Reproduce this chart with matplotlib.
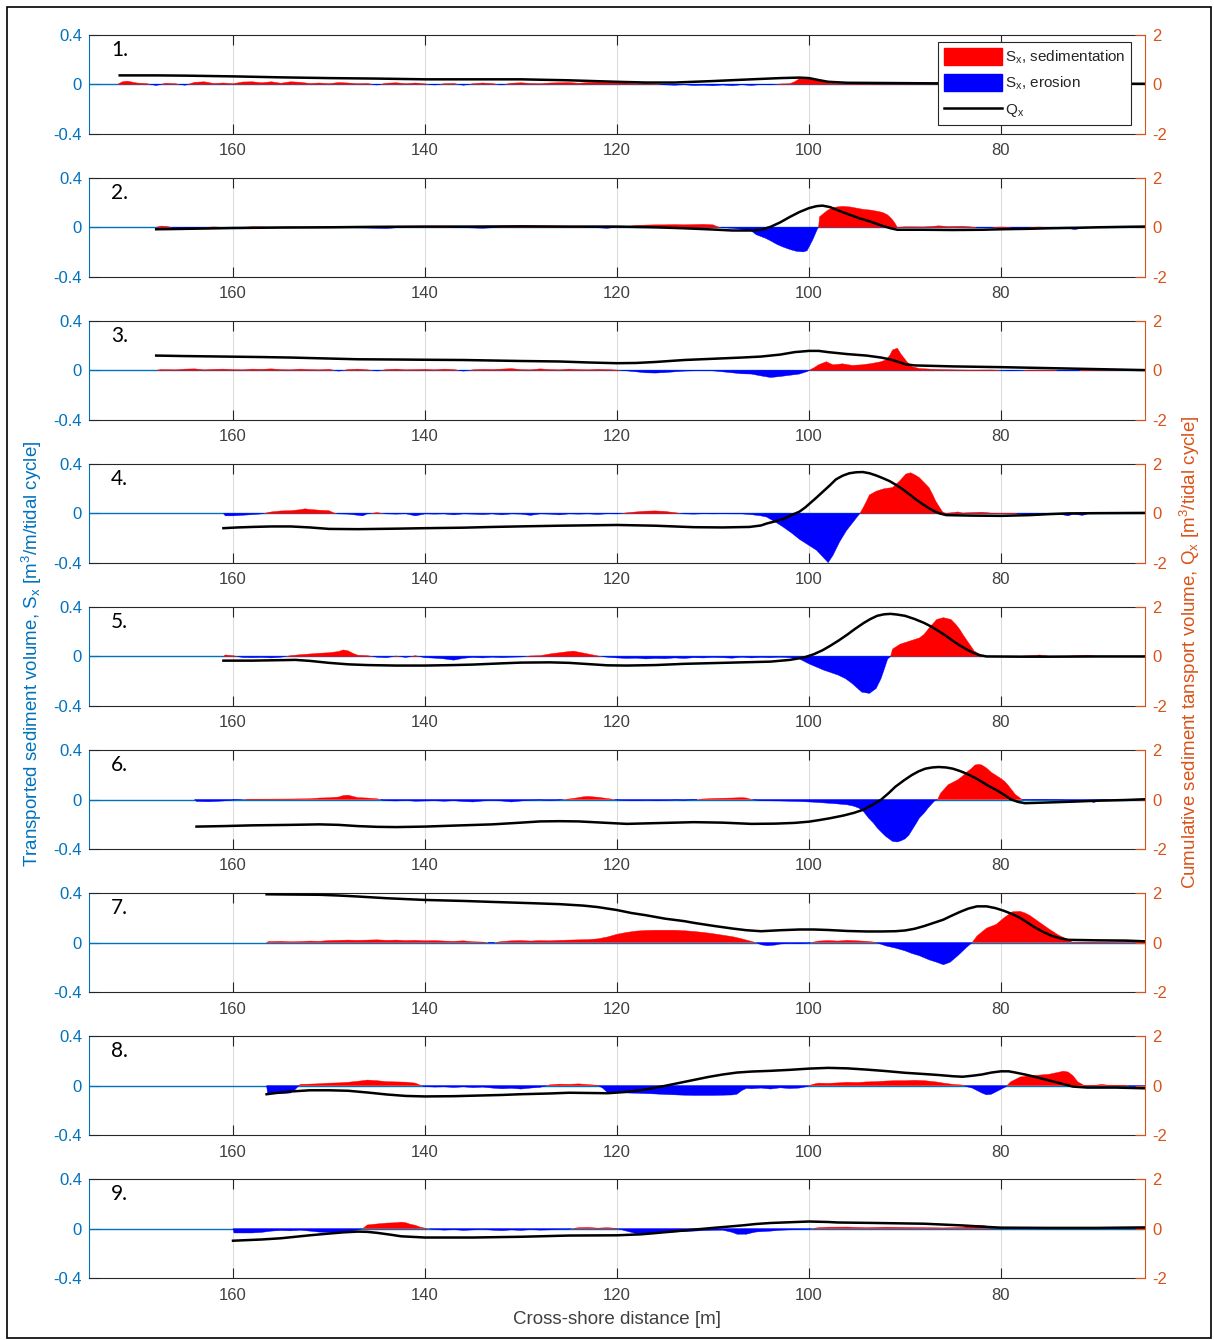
import matplotlib
matplotlib.use("Agg")
import matplotlib.pyplot as plt
from matplotlib.patches import Patch, Rectangle
from matplotlib.lines import Line2D
import numpy as np

plt.rcParams['font.family'] = ['Liberation Sans', 'DejaVu Sans']
plt.rcParams['mathtext.fontset'] = 'custom'
plt.rcParams['mathtext.rm'] = 'Liberation Sans'
plt.rcParams['mathtext.it'] = 'Liberation Sans:italic'

# ---------------------------------------------------------------------------
# Cross-shore transported sediment volume S_x [m3/m/tidal cycle] and
# cumulative transport Q_x [m3/tidal cycle] for nine survey intervals.
# ---------------------------------------------------------------------------
S1_X = [172, 171.5, 171, 170, 169, 168, 167, 166, 165, 164, 163, 162, 161, 160, 159, 158, 157, 156, 155, 154,
        153, 152, 151, 150, 149, 148, 147, 146, 145, 144, 143, 142, 141, 140, 139, 138, 137, 136, 135, 134,
        133, 132, 131, 130, 129, 128, 127, 126, 125, 124, 123, 122, 121, 120, 119, 118, 117, 116, 115, 114,
        113, 112, 111, 110, 109, 108, 107, 106, 105, 104, 103, 102, 101.5, 101, 100, 99, 98.5, 98, 97, 96,
        95, 94, 92, 90, 89, 88, 86, 84, 80, 75, 70, 65]
S1 = [0.0, 0.02, 0.025, 0.01, 0.005, -0.01, 0.008, 0.004, -0.008, 0.015, 0.02, 0.006, 0.01, 0.004, 0.018, 0.02,
      0.012, 0.02, 0.008, 0.02, 0.016, 0.006, 0.01, 0.004, 0.014, 0.01, 0.004, 0.006, -0.006, 0.008, 0.012, 0.004,
      0.01, 0.003, -0.006, 0.004, 0.006, -0.008, 0.004, 0.01, 0.005, -0.005, 0.008, 0.012, 0.006, 0.004, 0.01,
      0.012, 0.014, 0.008, 0.014, 0.016, 0.012, 0.01, 0.01, 0.004, 0.006, 0.003, -0.005, -0.008, -0.004, -0.01,
      -0.008, -0.012, -0.006, -0.012, -0.004, -0.01, -0.002, -0.004, 0.002, 0.004, 0.02, 0.045, 0.05, 0.04, 0.02,
      0.01, 0.006, 0.004, 0.002, 0.003, 0.003, 0.008, 0.012, 0.004, 0.002, 0.002, 0.001, 0.001, 0.0, 0.0]
Q1_X = [171.8, 168, 165, 160, 155, 150, 145, 140, 135, 130, 125, 120, 117, 114, 110, 106, 103, 101, 100, 99,
        98, 96, 92, 88, 84, 80, 75, 70, 65]
Q1 = [0.36, 0.36, 0.35, 0.32, 0.28, 0.25, 0.23, 0.2, 0.2, 0.2, 0.16, 0.1, 0.07, 0.07, 0.13, 0.2, 0.25, 0.27,
      0.25, 0.17, 0.1, 0.06, 0.05, 0.04, 0.03, 0.03, 0.02, 0.02, 0.02]

S2_X = [168, 167.5, 167, 166, 164, 162, 160, 158, 156, 154, 152, 150, 148, 146, 144, 143, 142, 140, 138, 136,
        134, 133, 132, 130, 129, 128, 126, 124, 122, 121, 120, 119, 118, 117, 116, 115, 114, 113, 112, 111,
        110, 109.5, 109, 108, 107, 106, 105.5, 104.5, 104, 103.3, 102.7, 102, 101.3, 100.6, 100.2, 99.6, 99.1,
        99, 98.9, 98.2, 97.7, 97.1, 96.5, 95.7, 95, 94.3, 93.6, 92.9, 92.3, 91.8, 91.4, 91.1, 90.8, 90, 88, 87,
        86.5, 85.5, 84, 83, 82, 80, 78, 76, 74, 73, 72.3, 71.5, 70, 68, 66, 65]
S2 = [0.0, 0.01, 0.008, -0.006, -0.004, 0.003, -0.004, 0.004, 0.002, 0.003, 0.002, 0.006, -0.003, -0.006, -0.01,
      -0.004, 0.002, 0.004, 0.002, -0.003, -0.008, -0.004, 0.003, 0.008, 0.006, 0.002, 0.003, 0.002, -0.004,
      -0.008, 0.002, 0.006, 0.015, 0.018, 0.02, 0.02, 0.022, 0.02, 0.022, 0.024, 0.02, 0.004, -0.004, -0.008,
      -0.016, -0.03, -0.06, -0.09, -0.11, -0.14, -0.16, -0.18, -0.195, -0.2, -0.19, -0.1, -0.01, 0.0, 0.085,
      0.13, 0.155, 0.165, 0.17, 0.165, 0.155, 0.145, 0.14, 0.13, 0.12, 0.1, 0.07, 0.04, 0.0, 0.004, 0.003,
      0.008, 0.012, 0.006, 0.008, 0.002, -0.003, 0.002, -0.002, 0.002, -0.004, -0.01, -0.018, -0.006, 0.003,
      0.002, 0.003, 0.0]
Q2_X = [168, 166, 163, 160, 155, 150, 145, 140, 135, 130, 125, 120, 116, 113, 110, 108, 106, 105, 104, 103,
        102, 101, 100, 99.2, 98.6, 97.8, 96.8, 95.7, 94.7, 93.6, 92.5, 91.5, 90.8, 88, 85, 82, 80, 77, 75, 72,
        70, 67, 65]
Q2 = [-0.08, -0.07, -0.05, -0.03, -0.01, 0.0, 0.02, 0.03, 0.03, 0.04, 0.03, 0.03, 0.0, -0.04, -0.09, -0.13,
      -0.13, -0.1, 0.02, 0.2, 0.42, 0.62, 0.78, 0.86, 0.88, 0.82, 0.66, 0.5, 0.36, 0.23, 0.08, -0.04, -0.1,
      -0.1, -0.11, -0.1, -0.08, -0.06, -0.04, -0.02, 0.0, 0.02, 0.03]

S3_X = [168, 167.5, 166, 165, 164, 163, 162, 161, 160, 159, 158, 157, 156, 155, 154, 153, 152, 151, 150, 149,
        148, 147, 146, 145, 144, 143, 142, 141, 140, 139, 138, 137, 136, 135, 134, 133, 132, 131, 130, 129,
        128, 127, 126, 125, 124, 123, 122, 121, 120, 119, 118, 117, 116, 115, 114, 113, 112, 111, 110, 109,
        108, 107, 106, 105, 104, 103, 102, 101, 100.2, 100, 99.5, 99, 98.2, 97.5, 96.5, 95.5, 94.5, 93.5, 92.5,
        92, 91.6, 91.3, 90.8, 90.4, 89.8, 89.3, 88.5, 87, 85, 83, 81, 79, 77, 75, 73, 71, 69, 67, 65]
S3 = [0.0, 0.006, 0.004, 0.01, 0.012, 0.004, 0.008, 0.01, 0.006, 0.004, 0.01, 0.008, 0.012, 0.006, 0.004, 0.01,
      0.006, 0.004, 0.008, -0.006, 0.006, 0.01, 0.004, -0.005, 0.006, 0.01, 0.004, 0.006, 0.008, 0.004, 0.01,
      0.006, -0.006, 0.004, 0.008, 0.006, 0.01, 0.014, 0.006, 0.004, 0.012, 0.006, 0.004, 0.01, 0.006, 0.004,
      0.008, 0.006, 0.002, -0.004, -0.012, -0.02, -0.022, -0.018, -0.012, -0.006, -0.004, -0.002, -0.004,
      -0.012, -0.02, -0.028, -0.03, -0.045, -0.058, -0.05, -0.04, -0.03, -0.01, 0.0, 0.02, 0.045, 0.07, 0.045,
      0.053, 0.04, 0.045, 0.055, 0.07, 0.085, 0.12, 0.165, 0.18, 0.13, 0.07, 0.03, 0.015, 0.008, 0.004, 0.002,
      0.003, -0.004, 0.002, 0.002, -0.003, 0.002, 0.006, 0.002, 0.0]
Q3_X = [168, 165, 161, 157, 154, 150, 147, 143, 140, 136, 133, 130, 126, 123, 120, 118, 116, 113, 110, 107,
        105, 103, 101.5, 100, 99, 98, 96, 94, 92.5, 91.5, 90.5, 90, 89, 87, 85, 80, 75, 70, 65]
Q3 = [0.6, 0.58, 0.56, 0.54, 0.52, 0.48, 0.45, 0.44, 0.43, 0.42, 0.4, 0.38, 0.36, 0.32, 0.29, 0.3, 0.34, 0.42,
      0.47, 0.52, 0.56, 0.64, 0.74, 0.79, 0.79, 0.74, 0.66, 0.6, 0.52, 0.44, 0.32, 0.25, 0.2, 0.18, 0.16, 0.13,
      0.09, 0.05, 0.01]

S4_X = [161, 160.8, 160, 159, 158, 157, 156, 155, 154, 153, 152.5, 152, 151, 150, 149.5, 149, 148, 147, 146.5,
        146, 145, 144, 143, 142, 141, 140, 139, 138, 137, 136, 135, 134, 133, 132, 131, 130, 129, 128, 127,
        126, 125, 124, 123, 122, 121, 120, 119, 118, 117, 116, 115, 114, 113, 112, 111, 110, 109, 108, 107,
        106, 105, 104.4, 103.5, 102.7, 101.8, 101, 100, 99.2, 98.6, 98, 97.5, 96.8, 96.1, 95.4, 94.9, 94.7,
        94.4, 94, 93.7, 93, 92.2, 91.3, 90.6, 89.9, 89.4, 88.9, 88.5, 88, 87.5, 87.1, 86.8, 86.4, 86.1, 85.8,
        85, 84.5, 84, 82.5, 82, 81, 79, 77, 75, 73.5, 73, 72.5, 71.5, 71, 70, 68, 65]
S4 = [0.0, -0.02, -0.02, -0.015, -0.01, -0.004, 0.012, 0.02, 0.022, 0.03, 0.037, 0.032, 0.026, 0.022, 0.004,
      -0.004, -0.006, -0.015, -0.02, -0.004, 0.006, -0.004, -0.006, -0.003, -0.02, -0.004, -0.006, -0.004,
      -0.012, -0.004, -0.006, -0.01, -0.004, -0.012, -0.004, -0.006, -0.016, -0.004, -0.006, -0.012, -0.004,
      -0.006, -0.004, -0.008, -0.003, -0.004, 0.004, 0.012, 0.018, 0.02, 0.016, 0.006, -0.004, -0.006, -0.003,
      -0.004, -0.003, -0.004, -0.004, -0.01, -0.02, -0.03, -0.07, -0.11, -0.16, -0.21, -0.26, -0.3, -0.35,
      -0.4, -0.34, -0.23, -0.14, -0.07, -0.02, 0.0, 0.04, 0.1, 0.15, 0.18, 0.2, 0.21, 0.26, 0.32, 0.33, 0.31,
      0.29, 0.25, 0.21, 0.15, 0.1, 0.05, 0.014, 0.0, 0.006, 0.012, 0.003, 0.008, 0.01, 0.002, 0.001, -0.002,
      -0.004, -0.012, -0.02, -0.006, -0.016, -0.004, 0.004, 0.002, 0.0]
Q4_X = [161, 159.5, 158, 156, 154, 152, 150, 147, 143, 140, 136, 133, 129, 126, 122, 120, 116, 112, 109, 106.2,
        105, 104.4, 103.5, 102.7, 102, 101, 100.4, 99.9, 99.2, 98.5, 97.8, 97.2, 96.5, 95.8, 95.1, 94.4, 93.7,
        93, 92.3, 91.6, 90.9, 90.2, 89.5, 88.8, 88.1, 87.5, 86.9, 86.4, 85.7, 83, 80, 77, 75, 73, 70, 65]
Q4 = [-0.6, -0.57, -0.55, -0.53, -0.53, -0.57, -0.63, -0.64, -0.62, -0.6, -0.58, -0.55, -0.52, -0.5, -0.48,
      -0.47, -0.5, -0.56, -0.57, -0.55, -0.49, -0.41, -0.32, -0.23, -0.1, 0.07, 0.24, 0.41, 0.65, 0.9, 1.15,
      1.38, 1.53, 1.63, 1.67, 1.68, 1.63, 1.54, 1.43, 1.31, 1.15, 0.97, 0.76, 0.55, 0.36, 0.21, 0.08, 0.0,
      -0.07, -0.09, -0.1, -0.07, -0.03, 0.0, 0.01, 0.02]

S5_X = [161, 160.8, 160, 159, 158, 157, 156, 155, 154, 153, 152, 151, 150, 149, 148.5, 148, 147.5, 147, 146,
        145, 144, 143, 142, 141, 140, 139, 138, 137, 136, 135, 134, 133, 132, 131, 130, 129, 128, 127, 126,
        125, 124.5, 124, 123, 122, 121, 120, 119, 118, 117, 116, 115, 114, 113, 112, 111, 110, 109, 108, 107,
        106, 105, 104, 103, 102, 101, 100, 98.5, 97, 96.2, 95.5, 94.5, 93.7, 93, 92.5, 92.1, 91.8, 91.5, 91.3,
        90.5, 89.5, 88.5, 88, 87.5, 86.7, 86, 85.2, 84.7, 84.3, 83.9, 83.5, 82.8, 82, 81.5, 80, 78, 76.5, 76,
        75, 73, 71, 70, 68, 65]
S5 = [0.0, 0.012, 0.006, -0.008, -0.01, -0.008, -0.012, -0.006, 0.006, 0.014, 0.02, 0.026, 0.03, 0.04, 0.053,
      0.045, 0.025, 0.01, 0.006, -0.006, -0.01, 0.004, -0.008, 0.006, -0.01, -0.014, -0.02, -0.03, -0.015,
      -0.008, -0.012, -0.006, -0.01, -0.006, -0.004, 0.004, 0.006, 0.02, 0.03, 0.04, 0.043, 0.035, 0.02, 0.004,
      -0.006, -0.012, -0.016, -0.014, -0.02, -0.016, -0.018, -0.012, -0.016, -0.01, -0.012, -0.008, -0.01,
      -0.014, -0.006, -0.012, -0.008, -0.01, -0.006, -0.01, -0.02, -0.06, -0.11, -0.15, -0.18, -0.22, -0.29,
      -0.3, -0.26, -0.18, -0.09, -0.02, 0.0, 0.06, 0.1, 0.125, 0.15, 0.18, 0.23, 0.3, 0.315, 0.3, 0.26, 0.22,
      0.17, 0.125, 0.045, 0.005, 0.0, 0.003, 0.002, 0.008, 0.012, 0.002, 0.003, 0.01, 0.002, 0.002, 0.0]
Q5_X = [161, 158, 155, 153.5, 152, 150, 148, 146, 143, 140, 137, 135, 132, 130, 127, 125, 123, 121, 119, 116,
        113, 110, 107, 104, 102, 100.5, 99.5, 98.6, 97.8, 96.9, 96, 95.2, 94.3, 93.6, 92.9, 92.2, 91.5, 90.8,
        90, 89, 88, 87.2, 86.5, 85.7, 85, 84.3, 83.6, 82.9, 82.2, 81.5, 78, 75, 70, 65]
Q5 = [-0.17, -0.17, -0.15, -0.14, -0.18, -0.26, -0.32, -0.35, -0.37, -0.37, -0.35, -0.33, -0.28, -0.25, -0.24,
      -0.26, -0.31, -0.36, -0.37, -0.35, -0.3, -0.27, -0.24, -0.21, -0.14, -0.04, 0.09, 0.25, 0.43, 0.65, 0.89,
      1.12, 1.36, 1.52, 1.65, 1.71, 1.73, 1.7, 1.65, 1.52, 1.36, 1.2, 1.03, 0.83, 0.63, 0.45, 0.29, 0.15, 0.05,
      0.0, -0.01, -0.01, 0.0, 0.0]

S6_X = [164, 163.8, 162.5, 161, 160, 158, 156, 154, 152, 151, 150, 149, 148.5, 148, 147.5, 147, 146, 145, 144.5,
        144, 143, 142, 141, 140, 139, 138, 137, 136, 135, 134, 133, 132, 131, 130, 129, 128, 127, 126, 125,
        124, 123.5, 123, 122, 121, 120, 119, 118, 117, 116, 115, 114, 113, 112, 111, 110, 109, 108, 107, 106.5,
        106, 105, 103, 101, 99.5, 98, 97, 96, 95.3, 94.8, 94.3, 93.8, 93.3, 92.9, 92.4, 92, 91.3, 90.8, 90.4,
        90, 89.6, 89.2, 88.8, 88.5, 88, 87.6, 87.2, 86.9, 86.6, 86.3, 85.9, 85.5, 85, 84.5, 84, 83.6, 83.1,
        82.7, 82.3, 82, 81.5, 81, 80.5, 80, 79.6, 79.3, 78.9, 78.5, 77.8, 76, 74, 73, 72.3, 71.8, 71, 70.3,
        69.8, 68, 65]
S6 = [0.0, -0.015, -0.018, -0.012, -0.004, 0.002, 0.003, 0.004, 0.006, 0.012, 0.014, 0.02, 0.032, 0.035, 0.025,
      0.015, 0.012, 0.006, -0.004, -0.01, -0.012, -0.008, -0.014, -0.012, -0.01, -0.014, -0.01, -0.016, -0.02,
      -0.012, -0.008, -0.012, -0.02, -0.012, -0.006, -0.004, -0.008, -0.004, 0.004, 0.015, 0.022, 0.025,
      0.018, 0.008, -0.004, -0.008, -0.01, -0.006, -0.01, -0.008, -0.004, -0.006, -0.002, 0.004, 0.008, 0.01,
      0.012, 0.015, 0.012, 0.0, -0.01, -0.012, -0.016, -0.022, -0.03, -0.036, -0.043, -0.055, -0.07, -0.1,
      -0.15, -0.19, -0.23, -0.27, -0.3, -0.34, -0.345, -0.335, -0.32, -0.29, -0.24, -0.19, -0.15, -0.11,
      -0.07, -0.035, -0.01, 0.0, 0.05, 0.085, 0.12, 0.14, 0.16, 0.19, 0.22, 0.25, 0.28, 0.285, 0.28, 0.255,
      0.22, 0.195, 0.17, 0.145, 0.12, 0.08, 0.04, 0.0, -0.002, -0.004, -0.006, -0.02, -0.006, -0.01, -0.025,
      -0.005, 0.002, 0.0]
Q6_X = [163.8, 161, 158, 154, 151, 149, 147, 145, 143, 140, 137, 133, 130, 128, 126, 124, 122, 119, 116, 112,
        109, 106, 103.5, 101.5, 100, 99, 97.8, 96.4, 95.3, 94.3, 93.4, 92.5, 91.7, 91, 90.1, 89.3, 88.6, 87.9,
        87.2, 86.5, 85.7, 85, 84.3, 83.6, 82.8, 82, 81.3, 80.5, 79.7, 79, 78.2, 77.5, 75, 72, 70, 67, 65]
Q6 = [-1.1, -1.08, -1.05, -1.03, -1.01, -1.03, -1.08, -1.11, -1.12, -1.1, -1.06, -1.01, -0.94, -0.89, -0.88,
      -0.89, -0.93, -0.99, -0.96, -0.92, -0.94, -0.99, -0.98, -0.95, -0.9, -0.84, -0.76, -0.65, -0.54, -0.41,
      -0.22, -0.01, 0.26, 0.52, 0.78, 0.99, 1.14, 1.25, 1.3, 1.32, 1.3, 1.25, 1.16, 1.05, 0.9, 0.72, 0.55,
      0.39, 0.2, 0.01, -0.1, -0.15, -0.12, -0.08, -0.05, -0.02, 0.01]

S7_X = [156.5, 156.3, 155, 154, 153, 152, 151, 150, 149, 148, 147, 146, 145, 144, 143, 142, 141, 140, 139, 138,
        137, 136, 135, 134, 133, 132, 131, 130, 129, 128, 127, 126, 125, 124, 123, 122, 121, 120, 119, 118,
        117, 116, 115, 114, 113, 112, 111, 110, 109, 108, 107.2, 106.5, 105.8, 105.5, 105, 104.3, 103.5, 103,
        102, 101, 100, 99, 98, 97, 96, 95, 94, 93.2, 93, 92, 91, 90, 89.3, 88.5, 87.5, 86.7, 86, 85.3, 84.5,
        83.6, 83, 82.5, 82, 81.5, 80.5, 79.7, 78.8, 78, 77.5, 77, 76, 75, 74, 73.2, 72.5, 71, 69, 67, 66.5,
        66, 65.5, 65]
S7 = [0.0, 0.008, 0.01, 0.006, 0.008, 0.012, 0.01, 0.016, 0.018, 0.02, 0.018, 0.02, 0.022, 0.018, 0.02, 0.016,
      0.018, 0.014, 0.016, 0.012, 0.01, 0.014, 0.006, 0.004, -0.003, 0.008, 0.014, 0.016, 0.012, 0.016, 0.014,
      0.018, 0.02, 0.022, 0.024, 0.03, 0.045, 0.067, 0.082, 0.093, 0.098, 0.1, 0.1, 0.1, 0.096, 0.09, 0.082,
      0.072, 0.06, 0.048, 0.034, 0.02, 0.005, 0.0, -0.018, -0.026, -0.02, -0.012, -0.008, -0.01, -0.004,
      0.012, 0.016, 0.012, 0.018, 0.014, 0.01, 0.003, 0.0, -0.027, -0.045, -0.067, -0.088, -0.107, -0.14,
      -0.16, -0.18, -0.16, -0.107, -0.04, 0.0, 0.053, 0.085, 0.117, 0.147, 0.2, 0.25, 0.253, 0.24, 0.22,
      0.165, 0.11, 0.06, 0.03, 0.0, 0.003, 0.004, 0.008, 0.018, 0.012, 0.02, 0.01]
Q7_X = [156.5, 154, 151, 149, 147, 144, 140, 136, 133, 129, 126, 123.5, 122, 120, 118.5, 117, 115, 113, 112,
        110, 108, 106.5, 105, 103, 101, 99.5, 98, 96, 94, 92.5, 91, 90, 89, 88, 87, 86, 85.2, 84.3, 83.4,
        82.5, 81.5, 80.6, 79.7, 78.8, 78, 77.2, 76.5, 75.6, 74.7, 73.8, 73, 70, 67, 65]
Q7 = [1.96, 1.95, 1.94, 1.91, 1.87, 1.8, 1.73, 1.69, 1.65, 1.6, 1.56, 1.5, 1.44, 1.32, 1.2, 1.11, 0.97, 0.87,
      0.8, 0.68, 0.57, 0.5, 0.46, 0.5, 0.53, 0.53, 0.51, 0.47, 0.45, 0.45, 0.46, 0.49, 0.56, 0.67, 0.8, 0.93,
      1.08, 1.24, 1.38, 1.47, 1.47, 1.4, 1.29, 1.15, 1.0, 0.8, 0.62, 0.43, 0.27, 0.17, 0.11, 0.09, 0.08, 0.05]

S8_X = [156.5, 156.4, 155, 154, 153.5, 153, 152, 151, 150, 149, 148, 147, 146, 145, 144, 143, 142, 141, 140.5,
        140, 139, 138, 137, 136, 135, 134, 133, 132, 131, 130, 129, 128, 127, 126, 125, 124, 123, 122, 121.5,
        121, 120, 119, 118, 117, 116, 115, 114, 113, 112, 111, 110, 109, 108, 107.5, 107, 106.5, 106, 105, 104,
        103, 102, 101, 100.2, 100, 99.5, 99, 98, 97, 96, 95, 94, 93, 92, 91, 90, 89, 88, 87, 86.5, 86, 85, 84,
        83.5, 83, 82.5, 82, 81.5, 81, 80.5, 80, 79.5, 79, 78.5, 78, 77, 76, 75, 74.5, 74, 73.5, 73, 72.5, 72,
        71.3, 70, 69.5, 69, 67, 66, 65.5, 65]
S8 = [0.0, -0.06, -0.065, -0.06, -0.03, 0.01, 0.012, 0.015, 0.02, 0.022, 0.027, 0.035, 0.045, 0.04, 0.032, 0.03,
      0.028, 0.02, 0.004, -0.008, -0.012, -0.01, -0.015, -0.01, -0.016, -0.012, -0.02, -0.026, -0.022, -0.028,
      -0.02, -0.014, 0.006, 0.012, 0.01, 0.014, 0.008, 0.002, -0.02, -0.055, -0.058, -0.06, -0.062, -0.065,
      -0.068, -0.072, -0.075, -0.078, -0.08, -0.08, -0.08, -0.078, -0.076, -0.07, -0.04, -0.022, -0.026,
      -0.02, -0.028, -0.018, -0.024, -0.02, -0.008, 0.0, 0.012, 0.02, 0.018, 0.022, 0.027, 0.025, 0.03, 0.032,
      0.037, 0.04, 0.04, 0.043, 0.04, 0.032, 0.027, 0.02, 0.01, 0.004, -0.01, -0.02, -0.04, -0.06, -0.075,
      -0.07, -0.05, -0.03, -0.01, 0.03, 0.05, 0.07, 0.08, 0.085, 0.092, 0.1, 0.108, 0.117, 0.11, 0.08, 0.03,
      0.0, 0.004, 0.01, 0.004, 0.002, -0.01, -0.02, -0.02]
Q8_X = [156.5, 155.5, 154, 152, 150, 148, 146, 144, 142, 140, 137, 135, 132, 130, 127, 125, 123, 121, 119.5,
        118, 116.5, 115, 113.5, 112, 110.5, 109, 107.5, 106, 104, 102, 100, 98, 96, 94, 92, 90, 88, 86.5, 85,
        84, 83, 82, 81, 80, 79.2, 78.5, 77.5, 76.5, 75.5, 74.5, 73.5, 72.5, 71, 68, 65]
Q8 = [-0.35, -0.3, -0.24, -0.19, -0.19, -0.21, -0.28, -0.36, -0.42, -0.44, -0.43, -0.41, -0.38, -0.35, -0.32,
      -0.29, -0.3, -0.31, -0.27, -0.21, -0.12, -0.01, 0.11, 0.23, 0.35, 0.45, 0.53, 0.57, 0.6, 0.64, 0.69,
      0.72, 0.7, 0.65, 0.59, 0.52, 0.47, 0.43, 0.38, 0.36, 0.4, 0.45, 0.53, 0.58, 0.58, 0.53, 0.45, 0.36, 0.26,
      0.16, 0.06, -0.04, -0.08, -0.08, -0.11]

S9_X = [160, 159.9, 158, 157, 156, 155, 154, 153, 152, 151, 150, 149, 148, 147, 146.5, 146, 145, 144, 143,
        142.5, 142, 141.5, 141, 140.5, 140, 139, 138, 137, 136, 135, 134, 133, 132, 131, 130, 129, 128, 127,
        126, 125, 124, 123, 122, 121, 120, 119, 118, 117, 116, 115, 114, 113, 112, 111, 110, 109, 108, 107.5,
        106.5, 106, 105.5, 104, 103, 102, 101, 100, 99, 98, 96, 94, 92, 90, 88, 86, 84, 83, 82, 81.5, 80.5,
        79, 77, 75, 73, 71, 69, 67, 65]
S9 = [0.0, -0.035, -0.035, -0.03, -0.02, -0.015, -0.018, -0.012, -0.02, -0.028, -0.03, -0.03, -0.025, -0.01,
      0.0, 0.03, 0.038, 0.045, 0.048, 0.053, 0.048, 0.035, 0.027, 0.012, 0.004, -0.006, -0.012, -0.008, -0.014,
      -0.01, -0.006, -0.012, -0.016, -0.01, -0.014, -0.008, -0.012, -0.01, -0.006, -0.004, 0.008, 0.01, 0.004,
      0.008, 0.002, -0.02, -0.04, -0.038, -0.034, -0.03, -0.027, -0.024, -0.02, -0.016, -0.013, -0.012, -0.03,
      -0.045, -0.045, -0.035, -0.027, -0.02, -0.013, -0.01, -0.008, -0.004, 0.008, 0.012, 0.013, 0.008, 0.012,
      0.01, 0.008, 0.006, 0.01, 0.02, 0.027, 0.02, 0.002, 0.003, 0.004, 0.002, 0.004, 0.003, 0.002, 0.001, 0.0]
Q9_X = [160, 157, 155, 153.5, 152, 150, 148.5, 147, 146, 145, 143.5, 142.5, 141, 140, 137, 135, 130, 125, 120,
        117.5, 116, 114, 112, 110, 107, 105.5, 104, 102, 100, 98, 97, 93, 88, 84, 81, 80, 75, 70, 65]
Q9 = [-0.49, -0.44, -0.39, -0.33, -0.27, -0.2, -0.15, -0.12, -0.13, -0.17, -0.25, -0.31, -0.34, -0.36, -0.36,
      -0.36, -0.33, -0.28, -0.27, -0.23, -0.18, -0.11, -0.04, 0.03, 0.13, 0.19, 0.23, 0.26, 0.29, 0.27, 0.25,
      0.23, 0.2, 0.13, 0.06, 0.04, 0.03, 0.03, 0.05]

PANEL_LABELS = ["1.", "2.", "3.", "4.", "5.", "6.", "7.", "8.", "9."]
S_X = [S1_X, S2_X, S3_X, S4_X, S5_X, S6_X, S7_X, S8_X, S9_X]
S_V = [S1, S2, S3, S4, S5, S6, S7, S8, S9]
Q_X = [Q1_X, Q2_X, Q3_X, Q4_X, Q5_X, Q6_X, Q7_X, Q8_X, Q9_X]
Q_V = [Q1, Q2, Q3, Q4, Q5, Q6, Q7, Q8, Q9]

X_TICKS = [160, 140, 120, 100, 80]
S_TICKS = [-0.4, 0, 0.4]
Q_TICKS = [-2, 0, 2]

# ---------------------------------------------------------------------------
BLUE_AX = "#0072BD"
ORANGE_AX = "#D95319"
DARK = "#262626"

W, H = 1214, 1340
fig = plt.figure(figsize=(W / 100, H / 100), dpi=100)

left_px, right_px = 89, 1145
top0, step, h_px = 35, 143.05, 98.5

for i in range(9):
    top = top0 + step * i
    ax = fig.add_axes([left_px / W, 1 - (top + h_px) / H, (right_px - left_px) / W, h_px / H])
    ax.set_xlim(175, 65)
    ax.set_ylim(-0.4, 0.4)

    x = np.array(S_X[i])
    s = np.array(S_V[i])
    ax.grid(axis="x", color="#dcdcdc", lw=0.8)
    ax.set_axisbelow(True)
    ax.axhline(0, color=BLUE_AX, lw=1.0, zorder=1)
    ax.fill_between(x, s, 0, where=s >= 0, interpolate=True, color="#ff0000", lw=0.3, zorder=2)
    ax.fill_between(x, s, 0, where=s <= 0, interpolate=True, color="#0000ff", lw=0.3, zorder=2)

    ax.set_xticks(X_TICKS)
    ax.set_yticks(S_TICKS)
    ax.set_yticklabels(["-0.4", "0", "0.4"])
    ax.tick_params(axis="x", which="both", direction="in", top=True, bottom=True, length=7,
                   color=DARK, labelcolor="#404040", labelsize=12, pad=7, width=0.8)
    ax.tick_params(axis="y", direction="in", left=True, right=False, length=7, color=BLUE_AX,
                   labelcolor=BLUE_AX, labelsize=12, pad=5, width=0.8)
    for sp in ("top", "bottom"):
        ax.spines[sp].set_color(DARK)
        ax.spines[sp].set_linewidth(0.8)
    ax.spines["left"].set_color(BLUE_AX)
    ax.spines["left"].set_linewidth(0.8)
    ax.spines["right"].set_visible(False)

    ax2 = ax.twinx()
    ax2.set_ylim(-2, 2)
    ax2.set_yticks(Q_TICKS)
    ax2.set_yticklabels(["-2", "0", "2"])
    ax2.tick_params(axis="y", direction="in", length=7, color=ORANGE_AX, labelcolor=ORANGE_AX,
                    labelsize=12, pad=5, width=0.8)
    for sp in ("top", "bottom", "left"):
        ax2.spines[sp].set_visible(False)
    ax2.spines["right"].set_color(ORANGE_AX)
    ax2.spines["right"].set_linewidth(0.8)
    ax2.plot(Q_X[i], Q_V[i], color="black", lw=1.8, zorder=3)

    ax2.text(0.021, 0.95, PANEL_LABELS[i], transform=ax2.transAxes, ha="left", va="top",
             fontsize=15, family=["Lato", "DejaVu Sans"], color="black")

    if i == 0:
        handles = [Patch(facecolor="#ff0000", edgecolor="#ff0000"),
                   Patch(facecolor="#0000ff", edgecolor="#0000ff"),
                   Line2D([0], [0], color="black", lw=1.8)]
        labels = [r"S$_\mathregular{x}$, sedimentation", r"S$_\mathregular{x}$, erosion",
                  r"Q$_\mathregular{x}$"]
        leg = ax2.legend(handles, labels, loc="upper right",
                         bbox_to_anchor=(1131 / W, 1 - 42 / H), bbox_transform=fig.transFigure,
                         fontsize=11, handlelength=3.8, handleheight=1.35, handletextpad=0.2,
                         labelspacing=0.55, borderpad=0.38, borderaxespad=0, fancybox=False,
                         framealpha=1, edgecolor=DARK, labelcolor=DARK)
        leg.get_frame().set_linewidth(0.8)

fig.text(32 / W, 1 - 654 / H,
         r"Transported sediment volume, S$_\mathregular{x}$ [m$^\mathregular{3}$/m/tidal cycle]",
         rotation=90, ha="center", va="center", color=BLUE_AX, fontsize=13.5)
fig.text(1190 / W, 1 - 652 / H,
         r"Cumulative sediment tansport volume, Q$_\mathregular{x}$ [m$^\mathregular{3}$/tidal cycle]",
         rotation=90, ha="center", va="center", color=ORANGE_AX, fontsize=13.5)
fig.text(617 / W, 1 - 1320 / H, "Cross-shore distance [m]", ha="center", va="center",
         color="#404040", fontsize=13.5)

fig.patches.append(Rectangle((7 / W, 1 - 1338 / H), (1211 - 7) / W, (1338 - 7) / H,
                             transform=fig.transFigure, fill=False, ec="black", lw=1.2))

fig.savefig("out.png", dpi=100)
